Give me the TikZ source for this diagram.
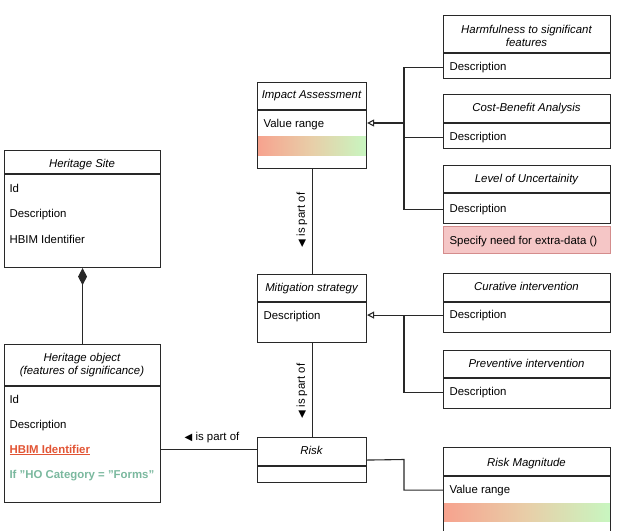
\documentclass[tikz,border=0pt]{standalone}
\usepackage{fontspec}
\setmainfont{Liberation Sans}
\newfontfamily\symfont{DejaVu Sans}
\usetikzlibrary{arrows.meta}

\definecolor{linegray}{RGB}{40,40,40}
\definecolor{lowred}{RGB}{247,162,142}
\definecolor{midtan}{RGB}{232,206,168}
\definecolor{highgreen}{RGB}{200,246,192}
\definecolor{notepink}{RGB}{245,198,198}
\definecolor{noteline}{RGB}{212,140,140}
\definecolor{hbimred}{RGB}{226,84,52}
\definecolor{catgreen}{RGB}{122,184,158}

\begin{document}
\begin{tikzpicture}
  [x=1pt,y=-1pt,line width=1.1pt,color=linegray,
   every node/.style={inner sep=0pt,text=black,font=\fontsize{11.4}{13}\selectfont},
   cls/.style={draw,rectangle,anchor=north west},
   title/.style={anchor=base,font=\fontsize{11.4}{13}\selectfont\itshape},
   title2/.style={align=center,font=\fontsize{11.4}{13}\selectfont\itshape},
   item/.style={anchor=base west},
   gen/.style={-{Triangle[open,length=7pt,width=7pt]}},
   part/.style={rotate=90},
   bar/.style={left color=lowred,right color=highgreen,middle color=midtan}]

  \useasboundingbox (0,0) rectangle (617,530);
  \clip (0,0) rectangle (617,530);

  % heritage site
  \node[cls,minimum width=156pt,minimum height=117pt] (site) at (4,150) {};
  \draw (4,174) -- (160,174);
  \node[title] (sitet) at (82,167) {Heritage Site};
  \node[item] (site1) at (9,192) {Id};
  \node[item] (site2) at (9,217) {Description};
  \node[item] (site3) at (9,243) {HBIM Identifier};

  % heritage object
  \node[cls,minimum width=156pt,minimum height=158pt] (obj) at (4,344) {};
  \draw (4,386) -- (160,386);
  \node[title2] (objt) at (82,365.5) {Heritage object\\(features of significance)};
  \node[item] (obj1) at (9,403) {Id};
  \node[item] (obj2) at (9,428) {Description};
  \node[item,text=hbimred] (obj3) at (9,453) {\underline{\textbf{HBIM Identifier}}};
  \node[item,text=catgreen] (obj4) at (9,478) {\textbf{If "HO Category = "Forms"}};

  % impact assessment
  \shade[bar] (257,136) rectangle (366,155);
  \node[cls,minimum width=109pt,minimum height=86pt] (ia) at (257,82) {};
  \draw (257,110) -- (366,110);
  \node[title] (iat) at (311.5,98) {Impact Assessment};
  \node[item] (iav) at (263,127) {Value range};

  % mitigation strategy
  \node[cls,minimum width=109pt,minimum height=68pt] (mit) at (257,274) {};
  \draw (257,302) -- (366,302);
  \node[title] (mitt) at (311.5,291) {Mitigation strategy};
  \node[item] (mitd) at (263,319) {Description};

  % risk
  \node[cls,minimum width=109pt,minimum height=45pt] (risk) at (257,437) {};
  \draw (257,466) -- (366,466);
  \node[title] (riskt) at (311.5,454) {Risk};

  % right column
  \node[cls,minimum width=167pt,minimum height=63pt] (harm) at (443,15) {};
  \draw (443,53) -- (610,53);
  \node[title2] (harmt) at (526.5,35.6) {Harmfulness to significant\\features};
  \node[item] (harmd) at (449,70) {Description};

  \node[cls,minimum width=167pt,minimum height=54pt] (cost) at (443,94) {};
  \draw (443,123) -- (610,123);
  \node[title] (costt) at (526.5,111) {Cost-Benefit Analysis};
  \node[item] (costd) at (449,140) {Description};

  \node[cls,minimum width=167pt,minimum height=58pt] (level) at (443,165) {};
  \draw (443,193) -- (610,193);
  \node[title] (levelt) at (526.5,182) {Level of Uncertainity};
  \node[item] (leveld) at (449,212) {Description};
  \node[cls,draw=noteline,fill=notepink,minimum width=167pt,minimum height=27pt] (note) at (443,226) {};
  \node[item] (notet) at (449,244) {Specify need for extra-data ()};

  \node[cls,minimum width=167pt,minimum height=59pt] (cur) at (443,273) {};
  \draw (443,302) -- (610,302);
  \node[title] (curt) at (526.5,290) {Curative intervention};
  \node[item] (curd) at (449,318) {Description};

  \node[cls,minimum width=167pt,minimum height=58pt] (prev) at (443,350) {};
  \draw (443,378) -- (610,378);
  \node[title] (prevt) at (526.5,367) {Preventive intervention};
  \node[item] (prevd) at (449,395) {Description};

  \shade[bar] (443,503) rectangle (610,521);
  \node[cls,minimum width=167pt,minimum height=100pt] (rmag) at (443,447) {};
  \draw (443,476) -- (610,476);
  \node[title] (rmagt) at (526.5,466) {Risk Magnitude};
  \node[item] (rmagv) at (449,493) {Value range};

  % connectors
  \coordinate (jia) at (404,123);
  \coordinate (jmit) at (404,315);
  \coordinate (jrisk) at (404,459.5);

  \draw[gen] (jia) -- (jia -| ia.east);
  \draw (harmd -| harm.west) -| (jia);
  \draw (costd -| cost.west) -| (jia);
  \draw (leveld -| level.west) -| (jia);

  \draw[gen] (curd -| cur.west) -- (curd -| mit.east);
  \draw (prevd -| prev.west) -| (jmit);

  \draw (risk.east) -- (jrisk) |- (rmagv -| rmag.west);

  \draw (ia.south) -- (mit.north);
  \draw (mit.south) -- (risk.north);
  \draw (riskt -| obj.east) -- (riskt -| risk.west);
  \draw[-{Diamond[length=17pt,width=9pt]}] (obj.north) -- (site.south);

  \node[part] (part1) at (302,220) {{\symfont\fontsize{10}{10}\selectfont ◀} is part of};
  \node[part] (part2) at (302,391) {{\symfont\fontsize{10}{10}\selectfont ◀} is part of};
  \node (part3) at (212,438) {{\symfont\fontsize{10}{10}\selectfont ◀} is part of};

\end{tikzpicture}
\end{document}
